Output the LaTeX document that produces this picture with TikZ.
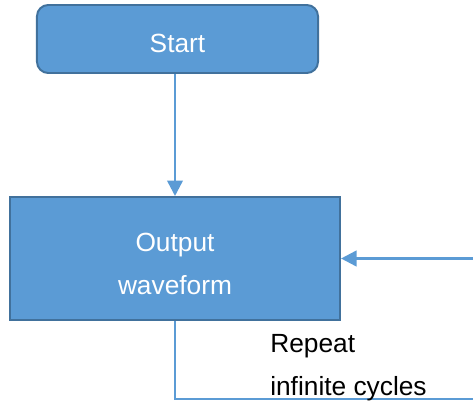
\documentclass[tikz,border=0pt]{standalone}
\usepackage{fontspec}
\setmainfont{Liberation Sans}
\usetikzlibrary{arrows.meta}
\definecolor{boxblue}{HTML}{5B9BD5}
\definecolor{edgeblue}{HTML}{41719C}
\tikzset{
    block/.style={draw=edgeblue, line width=1.4pt, fill=boxblue, text=white, align=center,
        font=\fontsize{18.7}{30.6}\selectfont},
    flow/.style={boxblue, line width=1.8pt, -{Triangle[width=11pt,length=11pt]}}
}
\begin{document}
\begin{tikzpicture}[x=0.025cm, y=-0.025cm]
                \useasboundingbox (0,0) rectangle (473,405);
                \node (start) at (177.5,39) [block, rounded corners=8pt, minimum width=7.025cm, minimum height=1.7cm] {\rule{0pt}{19pt}Start};
                \node (out) at (175,258.5) [block, minimum width=8.25cm, minimum height=3.075cm] {\rule{0pt}{20.5pt}Output\\waveform};
                \coordinate (turn) at (485,399);
                \draw [flow] (out.north |- start.south) -- (out.north);
                \draw [flow] (out.south) |- (turn) |- (out.east);
                \node (lbl) at (270,396) [anchor=base west, inner sep=0pt, align=left, font=\fontsize{18.7}{30.6}\selectfont] {Repeat\\infinite cycles};
            \end{tikzpicture}
\end{document}
